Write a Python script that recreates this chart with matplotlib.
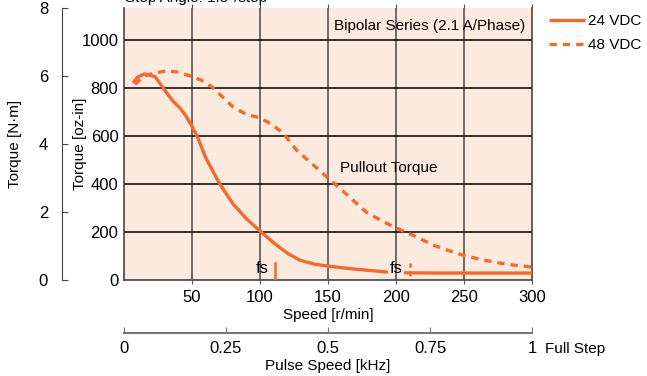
import numpy as np
import matplotlib.pyplot as plt

plt.rcParams['font.family'] = ['Liberation Sans Narrow', 'Liberation Sans', 'DejaVu Sans']
plt.rcParams['font.size'] = 11

# 24 VDC pullout torque [oz-in] vs speed [r/min]
spd24_a = [6.6, 10, 15, 20, 23, 30, 36, 41, 45, 50, 54, 60, 70, 80, 90, 100, 110, 120, 129, 140, 150, 165, 180, 194]
trq24_a = [821, 845, 858, 852, 846, 790, 745, 717, 688, 640, 596, 510, 404, 318, 255, 204, 155, 112, 83, 66, 58, 48, 40, 33]
spd24_b = [207, 230, 260, 300]
trq24_b = [30, 29, 29, 29]

# 48 VDC pullout torque
spd48 = [8, 15, 22, 31.5, 40, 48.5, 57, 64.7, 72, 80, 90, 100, 108, 117, 127, 140, 150, 165, 178, 190, 200, 213, 227, 238, 249, 262, 276, 288, 300]
trq48 = [815, 850, 862, 871, 866, 850, 832, 804, 765, 721, 690, 675, 650, 612, 540, 475, 425, 350, 283, 245, 217, 185, 146, 124, 104, 86, 71, 61, 54]

x_ticks = [50, 100, 150, 200, 250, 300]
y_ticks = [0, 200, 400, 600, 800, 1000]
nm_ticks = [0, 2, 4, 6, 8]
khz_ticks = [0, 0.25, 0.5, 0.75, 1]
khz_labels = ['0', '0.25', '0.5', '0.75', '1']

orange = '#F26A2E'
bg = '#FDEADF'
fs = 11

fig = plt.figure(figsize=(6.47, 3.76), dpi=100)
ax = fig.add_axes([0.1917, 0.2553, 0.6306, 0.7234])
ax.set_facecolor(bg)
ax.set_xlim(0, 300)
ax.set_ylim(0, 1133)
ax.set_xticks(x_ticks)
ax.set_yticks(y_ticks)
ax.tick_params(axis='both', length=0, pad=4, labelsize=fs + 1)
ax.tick_params(axis='x', top=True, length=3, direction='out', labeltop=False, color='#555555')
for x in x_ticks[:-1]:
    ax.axvline(x, color='#555555', lw=1.2, zorder=1)
for y in y_ticks[1:]:
    ax.axhline(y, color='black', lw=1.1, zorder=1)
for s in ['left', 'bottom', 'right']:
    ax.spines[s].set_color('#444444')
    ax.spines[s].set_linewidth(1.2)
ax.spines['top'].set_visible(False)

l24, = ax.plot(spd24_a, trq24_a, color=orange, lw=2.4, solid_capstyle='butt', zorder=3)
ax.plot(spd24_b, trq24_b, color=orange, lw=2.4, zorder=3)
l48, = ax.plot(spd48, trq48, color=orange, lw=2.4, ls=(0, (2.2, 1.8)), zorder=3)

# fs markers
ax.plot([111, 111], [0, 70], color=orange, lw=1.8, zorder=3)
ax.plot([210, 210], [18, 70], color=orange, lw=1.8, ls=(0, (2, 1.5)), zorder=3)
ax.text(101.5, 50, 'fs', ha='center', va='center', fontsize=fs + 1)
ax.text(200, 50, 'fs', ha='center', va='center', fontsize=fs + 1)

ax.text(295, 1058, 'Bipolar Series (2.1 A/Phase)', ha='right', va='center', fontsize=fs)
ax.text(159, 467, 'Pullout Torque', ha='left', va='center', fontsize=fs)
ax.set_xlabel('Speed [r/min]', fontsize=fs, labelpad=2)
ax.set_ylabel('Torque [oz-in]', fontsize=fs)
ax.yaxis.set_label_coords(-0.09, 0.5)
ax.text(0.002, 1.012, 'Step Angle: 1.8°/step', transform=ax.transAxes, ha='left', va='bottom', fontsize=fs)

# N·m axis
axn = fig.add_axes([0.0958, 0.2553, 0.001, 0.7234])
axn.set_ylim(0, 8)
axn.set_yticks(nm_ticks)
axn.set_xticks([])
axn.patch.set_visible(False)
for s in ['top', 'right', 'bottom']:
    axn.spines[s].set_visible(False)
axn.spines['left'].set_color('#444444')
axn.tick_params(axis='y', direction='in', length=4, labelsize=fs + 1, pad=10, color='#444444')
axn.set_ylabel('Torque [N·m]', fontsize=fs, labelpad=12)

# pulse speed axis
axk = fig.add_axes([0.1917, 0.1144, 0.6306, 0.001])
axk.set_xlim(0, 1)
axk.set_xticks(khz_ticks)
axk.set_xticklabels(khz_labels)
axk.set_yticks([])
axk.patch.set_visible(False)
for s in ['top', 'right', 'left']:
    axk.spines[s].set_visible(False)
axk.spines['bottom'].set_color('#777777')
axk.spines['bottom'].set_linewidth(1.5)
axk.tick_params(axis='x', direction='in', length=4, labelsize=fs + 1, pad=6, color='#777777')
axk.set_xlabel('Pulse Speed [kHz]', fontsize=fs, labelpad=2)
fig.text(0.842, 0.072, 'Full Step', ha='left', va='center', fontsize=fs)

fig.legend([l24, l48], ['24 VDC', '48 VDC'], loc='upper left', bbox_to_anchor=(0.848, 0.962),
           frameon=False, handlelength=2.4, handletextpad=0.15, labelspacing=0.65, fontsize=fs,
           borderpad=0, borderaxespad=0)

fig.savefig('out.png', dpi=100)
